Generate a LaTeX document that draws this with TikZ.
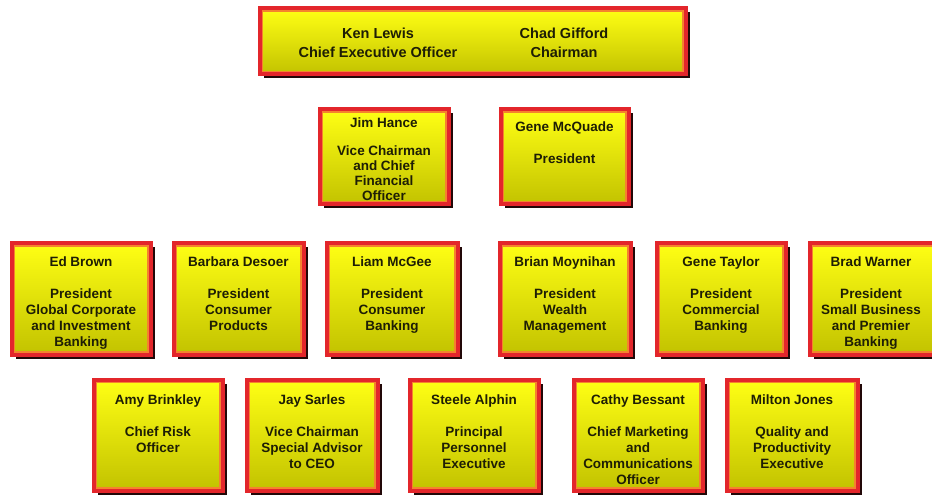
\documentclass[tikz,border=0pt]{standalone}
\usepackage{fontspec}
\setmainfont{Liberation Sans}
\usetikzlibrary{shadows}
\definecolor{bred}{HTML}{E3262B}
\definecolor{borange}{HTML}{F5822E}
\definecolor{byel}{HTML}{FFFF14}
\definecolor{bolive}{HTML}{C2C200}
\definecolor{bshadow}{HTML}{220808}
\definecolor{btext}{HTML}{1E1E05}
\tikzset{
  orgbox/.style={rectangle, draw=bred, line width=4pt, top color=byel, bottom color=bolive,
    inner sep=0pt, outer sep=0pt,
    drop shadow={opacity=1, fill=bshadow, shadow xshift=4pt, shadow yshift=-4pt}},
  innerline/.style={draw=borange, line width=1.8pt},
  boxlbl/.style={anchor=north, align=center, inner sep=0pt, text=btext,
    font=\bfseries\fontsize{13.5}{16}\selectfont},
  toplbl/.style={anchor=north, align=center, inner sep=0pt, text=btext,
    font=\bfseries\fontsize{14.5}{19}\selectfont},
}
% name, left, top, right, bottom
\newcommand\orgb[5]{%
  \node[orgbox, minimum width={(#4-#2-3)*1pt}, minimum height={(#5-#3-3)*1pt}]
    (#1) at ({(#2+#4)/2},{-(#3+#5)/2}) {};
  \draw[innerline] ([shift={(2.9pt,2.9pt)}]#1.south west) rectangle ([shift={(-2.9pt,-2.9pt)}]#1.north east);
}
\begin{document}
\begin{tikzpicture}[x=1pt,y=1pt]
\useasboundingbox[fill=white] (0,0) rectangle (932,-497);
% top
\orgb{top}{258}{7}{687}{76}
\node[toplbl] (kl) at (378,-27.8) {Ken Lewis\\Chief Executive Officer};
\node[toplbl] (cg) at (564,-27.8) {Chad Gifford\\Chairman};
% row 2
\orgb{jh}{318}{108}{450}{206}
\node[boxlbl, font=\bfseries\fontsize{13.5}{15}\selectfont] (jht) at (384,-118) {Jim Hance\\[13pt]Vice Chairman\\and Chief\\Financial\\Officer};
\orgb{gm}{499}{108}{630}{206}
\node[boxlbl] (gmt) at (564.5,-122) {Gene McQuade\\[16pt]President};
% row 3
\orgb{eb}{10}{242}{152}{356}
\node[boxlbl] (ebt) at (81,-257) {Ed Brown\\[16pt]President\\Global Corporate\\and Investment\\Banking};
\orgb{bd}{172}{242}{305}{356}
\node[boxlbl] (bdt) at (238.5,-257) {Barbara Desoer\\[16pt]President\\Consumer\\Products};
\orgb{lm}{325}{242}{459}{356}
\node[boxlbl] (lmt) at (392,-257) {Liam McGee\\[16pt]President\\Consumer\\Banking};
\orgb{bm}{498}{242}{632}{356}
\node[boxlbl] (bmt) at (565,-257) {Brian Moynihan\\[16pt]President\\Wealth\\Management};
\orgb{gt}{655}{242}{787}{356}
\node[boxlbl] (gtt) at (721,-257) {Gene Taylor\\[16pt]President\\Commercial\\Banking};
\orgb{bw}{808}{242}{940}{356}
\node[boxlbl] (bwt) at (871,-257) {Brad Warner\\[16pt]President\\Small Business\\and Premier\\Banking};
% row 4
\orgb{ab}{92}{378}{224}{492}
\node[boxlbl] (abt) at (158,-395) {Amy Brinkley\\[16pt]Chief Risk\\Officer};
\orgb{js}{245}{378}{379}{492}
\node[boxlbl] (jst) at (312,-395) {Jay Sarles\\[16pt]Vice Chairman\\Special Advisor\\to CEO};
\orgb{sa}{408}{378}{540}{492}
\node[boxlbl] (sat) at (474,-395) {Steele Alphin\\[16pt]Principal\\Personnel\\Executive};
\orgb{cb}{572}{378}{704}{492}
\node[boxlbl] (cbt) at (638,-395) {Cathy Bessant\\[16pt]Chief Marketing\\and\\Communications\\Officer};
\orgb{mj}{725}{378}{859}{492}
\node[boxlbl] (mjt) at (792,-395) {Milton Jones\\[16pt]Quality and\\Productivity\\Executive};
\end{tikzpicture}
\end{document}
